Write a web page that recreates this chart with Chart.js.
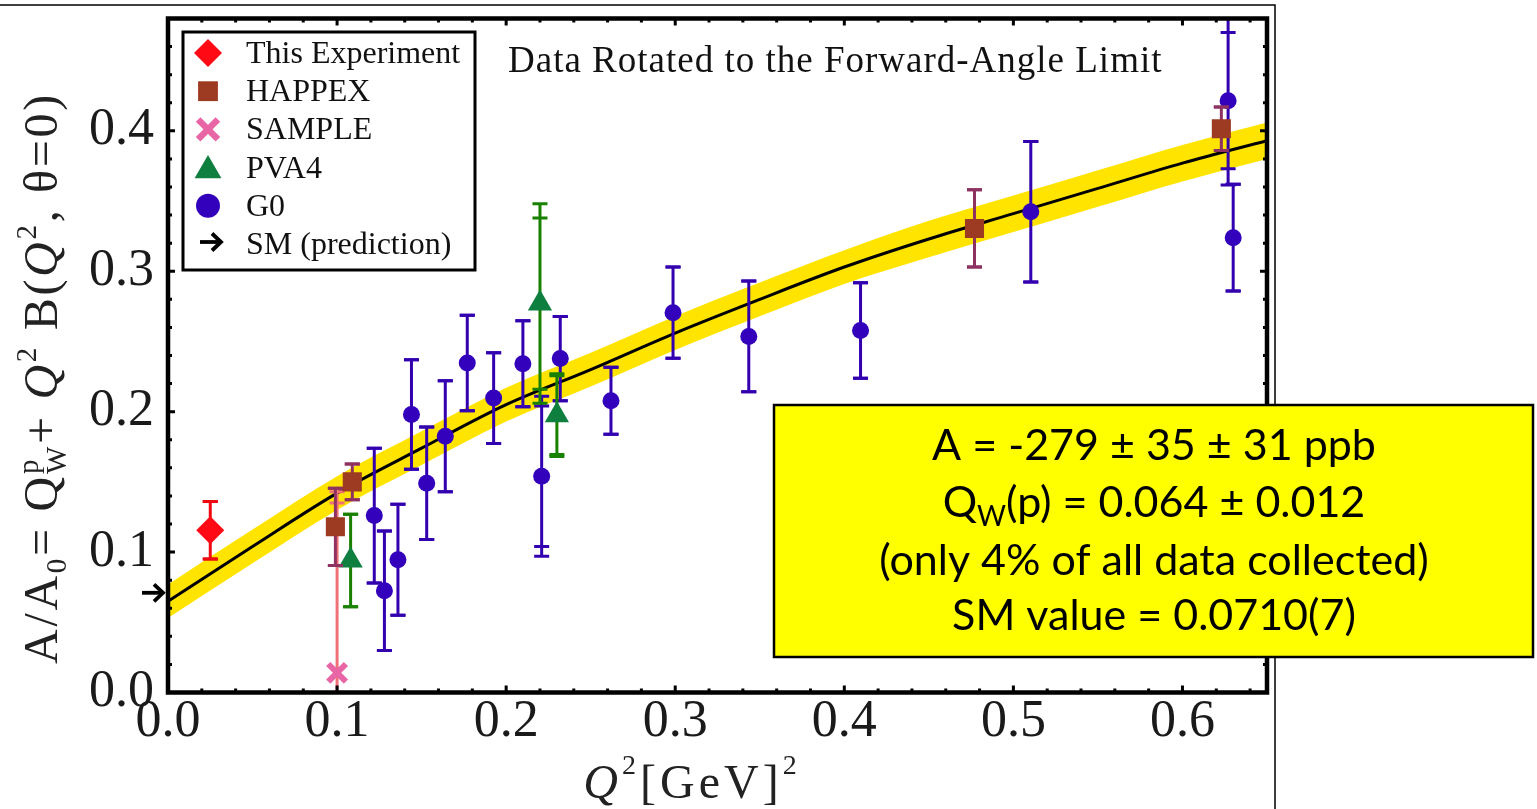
<!DOCTYPE html>
<html>
<head>
<meta charset="utf-8">
<script src="https://cdn.jsdelivr.net/npm/chart.js@4.4.1/dist/chart.umd.min.js"></script>
<style>
  html, body { margin: 0; padding: 0; background: #fff; }
  #wrap { width: 1537px; height: 809px; }
</style>
</head>
<body>
<div id="wrap"><canvas id="qweakChart" width="1537" height="809"></canvas></div>
<script>
// Values (Q^2 in GeV^2, A/A0)
const curveX  = [0, 0.05, 0.1, 0.15, 0.2, 0.25, 0.3, 0.35, 0.4, 0.45, 0.5, 0.55, 0.6, 0.65];
const curveY  = [0.065, 0.104, 0.142, 0.174, 0.205, 0.230, 0.256, 0.280, 0.303, 0.323, 0.341, 0.359, 0.377, 0.393];
const bandHi  = [0.077, 0.116, 0.154, 0.186, 0.217, 0.242, 0.268, 0.292, 0.315, 0.336, 0.354, 0.372, 0.390, 0.406];
const bandLo  = [0.053, 0.092, 0.130, 0.162, 0.193, 0.218, 0.244, 0.268, 0.291, 0.310, 0.328, 0.346, 0.364, 0.380];

const thisExpX = [0.025];
const thisExpY = [0.1155];
const thisExpErr = [0.0205];

const happexX = [0.099, 0.109, 0.477, 0.623];
const happexY = [0.118, 0.150, 0.3305, 0.4015];
const happexErr = [0.0275, 0.0127, 0.0275, 0.0155];

const sampleX = [0.100];
const sampleY = [0.014];
const sampleStat = [0.121];
const sampleTot = [0.129];

const pva4X = [0.108, 0.220, 0.230];
const pva4Y = [0.094, 0.277, 0.1975];
const pva4Stat = [0.033, 0.061, 0.028];
const pva4Tot = [0.033, 0.071, 0.0295];

const g0X = [0.122, 0.128, 0.136, 0.144, 0.153, 0.164, 0.177, 0.1926, 0.2099, 0.221, 0.232, 0.262, 0.2987, 0.3435, 0.4096, 0.5103, 0.627, 0.630];
const g0Y = [0.126, 0.0725, 0.0945, 0.198, 0.149, 0.1825, 0.2346, 0.2097, 0.2341, 0.154, 0.2378, 0.2078, 0.2705, 0.2536, 0.2578, 0.3424, 0.4215, 0.3239];
const g0Stat = [0.048, 0.0425, 0.0395, 0.039, 0.040, 0.0395, 0.034, 0.0323, 0.0306, 0.050, 0.030, 0.0238, 0.0325, 0.0395, 0.034, 0.050, 0.0485, 0.038];
const g0Tot  = [0.048, 0.0425, 0.0395, 0.039, 0.040, 0.0395, 0.034, 0.0323, 0.0306, 0.057, 0.030, 0.0238, 0.0325, 0.0395, 0.034, 0.050, 0.060, 0.038];

const smValue = 0.071;

const xTickValues = [0, 0.1, 0.2, 0.3, 0.4, 0.5, 0.6];
const xTickLabels = ['0.0', '0.1', '0.2', '0.3', '0.4', '0.5', '0.6'];
const yTickValues = [0, 0.1, 0.2, 0.3, 0.4];
const yTickLabels = ['0.0', '0.1', '0.2', '0.3', '0.4'];

const boxLines = ['A = -279 \u00b1 35 \u00b1 31 ppb', '(p) = 0.064 \u00b1 0.012', '(only 4% of all data collected)', 'SM value = 0.0710(7)'];

const SERIF = "'Liberation Serif', 'Times New Roman', serif";
const BOXFONT = "Lato, 'Open Sans', sans-serif";

function toPoints(xs, ys) {
    return xs.map((x, i) => ({ x: x, y: ys[i] }));
}

// Error bars, drawn just before each marker set
const errorBarPlugin = {
    id: 'errorBars',
    beforeDatasetDraw(chart, args) {
        const ds = chart.data.datasets[args.index];
        if (!ds.errStat) return;
        const { ctx, chartArea, scales: { x, y } } = chart;
        ctx.save();
        ctx.beginPath();
        ctx.rect(chartArea.left, chartArea.top, chartArea.width, chartArea.height);
        ctx.clip();
        ctx.strokeStyle = ds.barColor;
        ctx.lineWidth = 3;
        ds.data.forEach((p, i) => {
            const px = x.getPixelForValue(p.x);
            const tot = ds.errTot[i];
            const stat = ds.errStat[i];
            ctx.beginPath();
            ctx.moveTo(px, y.getPixelForValue(p.y + tot));
            ctx.lineTo(px, y.getPixelForValue(p.y - tot));
            ctx.stroke();
            [p.y + tot, p.y - tot, p.y + stat, p.y - stat].forEach(v => {
                const py = y.getPixelForValue(v);
                ctx.beginPath();
                ctx.moveTo(px - 7.5, py);
                ctx.lineTo(px + 7.5, py);
                ctx.stroke();
            });
        });
        ctx.restore();
    }
};

// Text with sub/superscripts: parts = [{t, f, dy, adv}]
function drawRich(ctx, parts, x, y, center) {
    let total = 0;
    parts.forEach(p => {
        ctx.font = p.f;
        total += p.adv !== undefined ? p.adv : ctx.measureText(p.t).width;
    });
    let cx = center ? x - total / 2 : x;
    parts.forEach(p => {
        ctx.font = p.f;
        ctx.fillText(p.t, cx, y + (p.dy || 0));
        cx += p.adv !== undefined ? p.adv : ctx.measureText(p.t).width;
    });
}

function drawArrow(ctx, x, y) {
    ctx.save();
    ctx.strokeStyle = '#000';
    ctx.lineWidth = 3.8;
    ctx.beginPath();
    ctx.moveTo(x - 11, y);
    ctx.lineTo(x + 9, y);
    ctx.stroke();
    ctx.beginPath();
    ctx.moveTo(x + 1, y - 8.5);
    ctx.lineTo(x + 10, y);
    ctx.lineTo(x + 1, y + 8.5);
    ctx.stroke();
    ctx.restore();
}

const decorPlugin = {
    id: 'decor',
    beforeDraw(chart) {
        const ctx = chart.ctx;
        // thin slide lines around the figure
        ctx.save();
        ctx.strokeStyle = '#000';
        ctx.lineWidth = 1.5;
        ctx.beginPath();
        ctx.moveTo(0, 5);
        ctx.lineTo(1275, 5);
        ctx.lineTo(1275, 809);
        ctx.stroke();
        ctx.restore();
    },
    afterDraw(chart) {
        const { ctx, chartArea: a, scales: { x, y } } = chart;
        ctx.save();

        // inward ticks on all four sides
        ctx.strokeStyle = '#000';
        ctx.lineWidth = 3;
        for (let v = 0; v <= 0.65 + 1e-9; v += 0.02) {
            const major = Math.abs(v * 10 - Math.round(v * 10)) < 1e-6;
            const len = major ? 7 : 4;
            const px = x.getPixelForValue(v);
            ctx.beginPath();
            ctx.moveTo(px, a.bottom); ctx.lineTo(px, a.bottom - len);
            ctx.moveTo(px, a.top); ctx.lineTo(px, a.top + len);
            ctx.stroke();
        }
        for (let v = 0; v <= 0.48 + 1e-9; v += 0.02) {
            const major = Math.abs(v * 10 - Math.round(v * 10)) < 1e-6;
            const len = major ? 7 : 4;
            const py = y.getPixelForValue(v);
            ctx.beginPath();
            ctx.moveTo(a.left, py); ctx.lineTo(a.left + len, py);
            ctx.moveTo(a.right, py); ctx.lineTo(a.right - len, py);
            ctx.stroke();
        }

        // frame
        ctx.lineWidth = 4.5;
        ctx.strokeRect(a.left, a.top, a.right - a.left, a.bottom - a.top);

        // SM prediction arrow on the left axis
        drawArrow(ctx, a.left - 15, y.getPixelForValue(smValue));

        // legend box
        ctx.lineWidth = 3;
        ctx.fillStyle = '#fff';
        ctx.fillRect(183, 32, 292, 238);
        ctx.strokeRect(183, 32, 292, 238);
        const rows = chart.data.datasets.filter(d => d.legendRow !== undefined)
            .sort((p, q) => p.legendRow - q.legendRow);
        ctx.textBaseline = 'alphabetic';
        rows.forEach((d, i) => {
            const cy = 53 + i * 38.2;
            ctx.fillStyle = d.backgroundColor;
            ctx.strokeStyle = d.borderColor;
            ctx.lineWidth = 6.5;
            Chart.helpers.drawPoint(ctx, {
                pointStyle: d.pointStyle,
                radius: d.legendRadius,
                borderWidth: d.pointStyle === 'crossRot' ? 6.5 : 0,
                rotation: 0
            }, 208, cy + (d.pointStyle === 'triangle' ? 3 : 0));
            ctx.fillStyle = '#111';
            ctx.font = '32px ' + SERIF;
            ctx.fillText(d.label, 246, cy + 10);
        });
        const smRow = 53 + rows.length * 38.2;
        drawArrow(ctx, 211, smRow - 2);
        ctx.fillStyle = '#111';
        ctx.fillText('SM (prediction)', 246, smRow + 10);

        // in-plot title
        ctx.font = '37px ' + SERIF;
        ctx.letterSpacing = '1px';
        ctx.fillText('Data Rotated to the Forward-Angle Limit', 508, 72);

        // axis titles
        ctx.fillStyle = '#222';
        ctx.letterSpacing = '4px';
        drawRich(ctx, [
            { t: 'Q', f: 'italic 48px ' + SERIF },
            { t: '2', f: '28px ' + SERIF, dy: -24 },
            { t: '[GeV]', f: '48px ' + SERIF },
            { t: '2', f: '28px ' + SERIF, dy: -24 }
        ], 692, 798, true);

        ctx.save();
        ctx.translate(57, 378);
        ctx.rotate(-Math.PI / 2);
        ctx.letterSpacing = '2.7px';
        drawRich(ctx, [
            { t: 'A/A', f: '48px ' + SERIF },
            { t: '0', f: '29px ' + SERIF, dy: 9 },
            { t: '= Q', f: '48px ' + SERIF },
            { t: 'p', f: '29px ' + SERIF, dy: -19, adv: 0 },
            { t: 'W', f: '29px ' + SERIF, dy: 9 },
            { t: '+ ', f: '48px ' + SERIF },
            { t: 'Q', f: 'italic 48px ' + SERIF },
            { t: '2', f: '29px ' + SERIF, dy: -21 },
            { t: ' B(', f: '48px ' + SERIF },
            { t: 'Q', f: 'italic 48px ' + SERIF },
            { t: '2', f: '29px ' + SERIF, dy: -21 },
            { t: ', \u03b8=0)', f: '48px ' + SERIF }
        ], 0, 0, true);
        ctx.restore();
        ctx.letterSpacing = '0px';

        // yellow result box
        ctx.fillStyle = '#ffff00';
        ctx.fillRect(774, 405, 759, 252);
        ctx.strokeStyle = '#000';
        ctx.lineWidth = 2.5;
        ctx.strokeRect(774, 405, 759, 252);
        ctx.fillStyle = '#000';
        ctx.textAlign = 'left';
        const bx = 1154;
        const boxFont = '43px ' + BOXFONT;
        drawRich(ctx, [{ t: boxLines[0], f: boxFont }], bx, 460, true);
        drawRich(ctx, [
            { t: 'Q', f: boxFont },
            { t: 'W', f: '28px ' + BOXFONT, dy: 9 },
            { t: boxLines[1], f: boxFont }
        ], bx, 517, true);
        drawRich(ctx, [{ t: boxLines[2], f: boxFont }], bx, 575, true);
        drawRich(ctx, [{ t: boxLines[3], f: boxFont }], bx, 630, true);

        ctx.restore();
    }
};

const curveLine = {
    type: 'line', pointRadius: 0, cubicInterpolationMode: 'monotone'
};

new Chart(document.getElementById('qweakChart'), {
    type: 'scatter',
    data: {
        datasets: [{
            ...curveLine,
            label: 'band low',
            data: toPoints(curveX, bandLo),
            borderWidth: 0,
            fill: false,
            order: 30
        }, {
            ...curveLine,
            label: 'band high',
            data: toPoints(curveX, bandHi),
            borderWidth: 0,
            backgroundColor: '#ffe400',
            fill: '-1',
            order: 29
        }, {
            ...curveLine,
            label: 'fit',
            data: toPoints(curveX, curveY),
            borderColor: '#000',
            borderWidth: 3,
            fill: false,
            order: 20
        }, {
            label: 'This Experiment',
            data: toPoints(thisExpX, thisExpY),
            errStat: thisExpErr, errTot: thisExpErr, barColor: '#ee0a10',
            pointStyle: 'rectRot', pointRadius: 14, pointBorderWidth: 0, borderWidth: 0,
            backgroundColor: '#ff0a14', borderColor: '#ff0a14',
            legendRow: 0, legendRadius: 14,
            order: 1
        }, {
            label: 'HAPPEX',
            data: toPoints(happexX, happexY),
            errStat: happexErr, errTot: happexErr, barColor: '#8e3262',
            pointStyle: 'rect', pointRadius: 13.5, pointBorderWidth: 0, borderWidth: 0,
            backgroundColor: '#9c3a22', borderColor: '#9c3a22',
            legendRow: 1, legendRadius: 14,
            order: 2
        }, {
            label: 'SAMPLE',
            data: toPoints(sampleX, sampleY),
            errStat: sampleStat, errTot: sampleTot, barColor: '#f07078',
            pointStyle: 'crossRot', pointRadius: 12.5, pointBorderWidth: 6, borderWidth: 6,
            backgroundColor: '#e866a6', borderColor: '#e866a6',
            legendRow: 2, legendRadius: 14,
            order: 4
        }, {
            label: 'PVA4',
            data: toPoints(pva4X, pva4Y),
            errStat: pva4Stat, errTot: pva4Tot, barColor: '#1a8000',
            pointStyle: 'triangle', pointRadius: 14, pointBorderWidth: 0, borderWidth: 0,
            backgroundColor: '#0f7f40', borderColor: '#0f7f40',
            legendRow: 3, legendRadius: 15.5,
            order: 3
        }, {
            label: 'G0',
            data: toPoints(g0X, g0Y),
            errStat: g0Stat, errTot: g0Tot, barColor: '#3300b0',
            pointStyle: 'circle', pointRadius: 8.5, pointBorderWidth: 0, borderWidth: 0,
            backgroundColor: '#3300bb', borderColor: '#3300bb',
            legendRow: 4, legendRadius: 12,
            order: 5
        }]
    },
    options: {
        responsive: false,
        animation: false,
        events: [],
        layout: { padding: { top: 14, right: 270, left: 0, bottom: 0 } },
        plugins: {
            legend: { display: false },
            tooltip: { enabled: false }
        },
        scales: {
            x: {
                type: 'linear',
                min: 0,
                max: 0.65,
                afterBuildTicks: scale => { scale.ticks = xTickValues.map(v => ({ value: v })); },
                afterFit: scale => {
                    scale.height = 116.5;
                    scale.paddingLeft = 0;
                    scale.paddingRight = 0;
                },
                grid: { display: false, drawTicks: false },
                border: { display: false },
                ticks: {
                    color: '#1a1a1a',
                    padding: 4,
                    autoSkip: false,
                    maxRotation: 0,
                    font: { family: SERIF, size: 52, lineHeight: 1 },
                    callback: (v, i) => xTickLabels[i]
                }
            },
            y: {
                type: 'linear',
                min: 0,
                max: 0.48,
                afterBuildTicks: scale => { scale.ticks = yTickValues.map(v => ({ value: v })); },
                afterFit: scale => {
                    scale.width = 168;
                    scale.paddingTop = 0;
                    scale.paddingBottom = 0;
                },
                grid: { display: false, drawTicks: false },
                border: { display: false },
                ticks: {
                    color: '#1a1a1a',
                    padding: 14,
                    autoSkip: false,
                    font: { family: SERIF, size: 52, lineHeight: 1 },
                    callback: (v, i) => yTickLabels[i]
                }
            }
        }
    },
    plugins: [decorPlugin, errorBarPlugin]
});
</script>
</body>
</html>
